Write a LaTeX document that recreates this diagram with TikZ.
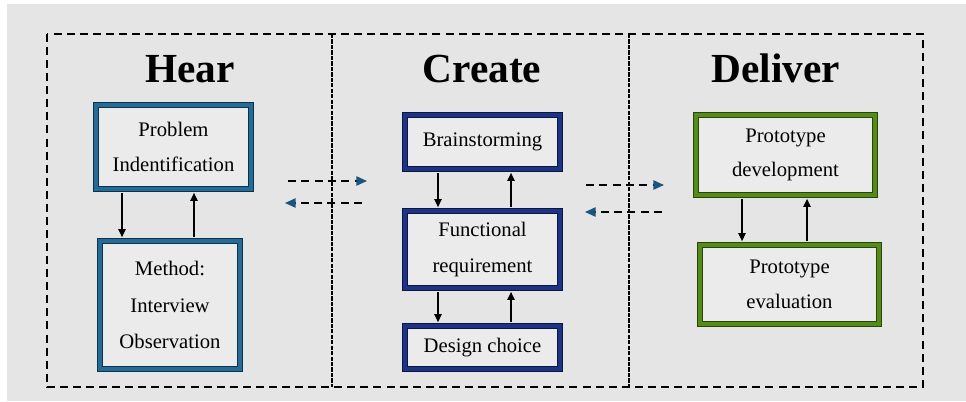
\documentclass[tikz,border=0pt]{standalone}
\usepackage{fontspec}
\setmainfont{Liberation Serif}
\usetikzlibrary{arrows.meta}

\definecolor{pagebg}{RGB}{229,229,229}
\definecolor{boxfill}{RGB}{235,235,235}
\definecolor{heardark}{RGB}{14,50,78}
\definecolor{hearmid}{RGB}{36,108,150}
\definecolor{createdark}{RGB}{10,22,70}
\definecolor{createmid}{RGB}{30,52,130}
\definecolor{deliverdark}{RGB}{40,70,8}
\definecolor{delivermid}{RGB}{85,138,28}
\definecolor{tipblue}{RGB}{25,85,125}

\tikzset{
  stagebox/.style={draw=#1dark, double=#1mid, line width=1.4pt, double distance=2.4pt,
    fill=boxfill, align=center, inner sep=2pt, outer sep=2.9pt,
    font=\fontsize{15.5}{26}\selectfont},
  title/.style={anchor=base, font=\fontsize{31}{36}\selectfont\bfseries},
  flow/.style={line width=1.1pt, -{Triangle[length=6pt,width=5.5pt]}},
  handoff/.style={line width=1.1pt, dash pattern=on 6pt off 4pt,
    -{Triangle[length=8pt,width=7pt,fill=tipblue,color=tipblue]}},
  frame/.style={line width=1.2pt, dash pattern=on 6pt off 3.8pt},
  divider/.style={line width=1.9pt, dash pattern=on 3.2pt off 0.9pt}
}

\begin{document}
\begin{tikzpicture}[x=0.75pt,y=-0.75pt]
  \useasboundingbox (0,0) rectangle (966,401);
  \fill[white] (0,0) rectangle (966,401);
  \fill[pagebg] (7,4) rectangle (966,401);

  % dashed frame and column dividers
  \draw[frame] (47,34) rectangle (923,387);
  \draw[divider] (332,34) -- (332,387);
  \draw[divider] (629,34) -- (629,387);

  % column titles
  \node[title] (thear) at (190,82) {Hear};
  \node[title] (tcreate) at (482,82) {Create};
  \node[title] (tdeliver) at (776,82) {Deliver};

  % Hear
  \node[stagebox=hear, minimum width=155*0.75pt, minimum height=84*0.75pt] (prob) at (173.5,147) {Problem\\Indentification};
  \node[stagebox=hear, minimum width=140*0.75pt, minimum height=128*0.75pt,
        font=\fontsize{15.5}{27.5}\selectfont] (meth) at (170,305) {Method:\\Interview\\Observation};

  % Create
  \node[stagebox=create, minimum width=155*0.75pt, minimum height=54*0.75pt] (brain) at (482.5,142) {Brainstorming};
  \node[stagebox=create, minimum width=155*0.75pt, minimum height=77*0.75pt,
        font=\fontsize{15.5}{27}\selectfont] (func) at (482.5,249.5) {Functional\\requirement};
  \node[stagebox=create, minimum width=155*0.75pt, minimum height=43*0.75pt] (design) at (482.5,347.5) {Design choice};

  % Deliver
  \node[stagebox=deliver, minimum width=179*0.75pt, minimum height=80*0.75pt] (pdev) at (785.5,155) {Prototype\\development};
  \node[stagebox=deliver, minimum width=179*0.75pt, minimum height=79*0.75pt] (peval) at (789.5,284.5) {Prototype\\evaluation};

  % x positions of the vertical links
  \coordinate (xa) at (122,0);
  \coordinate (xb) at (194,0);
  \coordinate (xc) at (438,0);
  \coordinate (xd) at (511,0);
  \coordinate (xe) at (742,0);
  \coordinate (xf) at (807,0);

  \draw[flow] (prob.south -| xa) -- (meth.north -| xa);
  \draw[flow] (meth.north -| xb) -- (prob.south -| xb);
  \draw[flow] (brain.south -| xc) -- (func.north -| xc);
  \draw[flow] (func.north -| xd) -- (brain.south -| xd);
  \draw[flow] (func.south -| xc) -- (design.north -| xc);
  \draw[flow] (design.north -| xd) -- (func.south -| xd);
  \draw[flow] (pdev.south -| xe) -- (peval.north -| xe);
  \draw[flow] (peval.north -| xf) -- (pdev.south -| xf);

  % hand-offs between columns
  \coordinate (h1a) at (288,181);  \coordinate (h1b) at (367,181);
  \coordinate (h2a) at (362,203);  \coordinate (h2b) at (285,203);
  \coordinate (h3a) at (586,185);  \coordinate (h3b) at (664,185);
  \coordinate (h4a) at (662,212);  \coordinate (h4b) at (585,212);
  \draw[handoff] (h1a) -- (h1b);
  \draw[handoff] (h2a) -- (h2b);
  \draw[handoff] (h3a) -- (h3b);
  \draw[handoff] (h4a) -- (h4b);
\end{tikzpicture}
\end{document}
